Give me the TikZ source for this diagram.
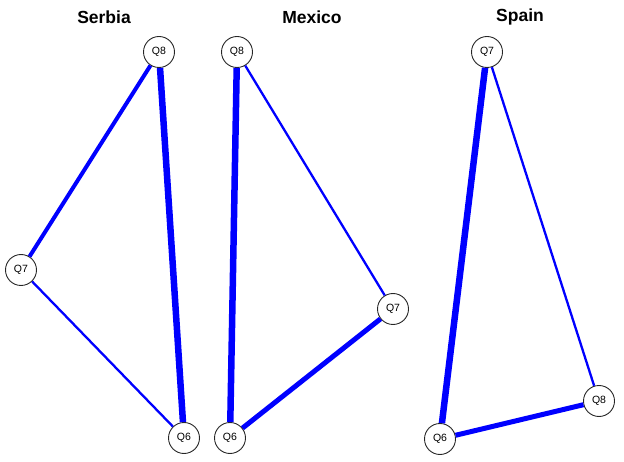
\documentclass[tikz,border=0pt]{standalone}
\usepackage{fontspec}
\setmainfont{Liberation Sans}
\begin{document}
\begin{tikzpicture}[x=1pt,y=-1pt,
  qnode/.style={circle,draw=black!85,line width=0.9pt,fill=white,minimum size=31pt,inner sep=0pt,font=\fontsize{10.5}{12}\selectfont},
  title/.style={font=\bfseries\fontsize{17.5}{20}\selectfont},
  thinedge/.style={draw={rgb,255:red,0;green,0;blue,255},line width=2.3pt},
  midedge/.style={draw={rgb,255:red,0;green,0;blue,255},line width=4pt},
  medthick/.style={draw={rgb,255:red,0;green,0;blue,255},line width=5pt},
  thickedge/.style={draw={rgb,255:red,0;green,0;blue,255},line width=6.5pt}]
\useasboundingbox (0,0) rectangle (624,462);
% titles
\node[title] (tS) at (104,17) {Serbia};
\node[title] (tM) at (312,17) {Mexico};
\node[title] (tE) at (520,17) {Spain};
% Serbia
\node[qnode] (s8) at (159,52) {Q8};
\node[qnode] (s7) at (21,270) {Q7};
\node[qnode] (s6) at (184,438) {Q6};
% Mexico
\node[qnode] (m8) at (237,52) {Q8};
\node[qnode] (m7) at (393,309) {Q7};
\node[qnode] (m6) at (230,438) {Q6};
% Spain
\node[qnode] (e7) at (487,52) {Q7};
\node[qnode] (e8) at (599,401) {Q8};
\node[qnode] (e6) at (440,439) {Q6};
% edges
\draw[thickedge] (s8) -- (s6);
\draw[midedge] (s8) -- (s7);
\draw[thinedge] (s7) -- (s6);
\draw[thickedge] (m8) -- (m6);
\draw[thinedge] (m8) -- (m7);
\draw[medthick] (m7) -- (m6);
\draw[thickedge] (e7) -- (e6);
\draw[thinedge] (e7) -- (e8);
\draw[medthick] (e6) -- (e8);
\end{tikzpicture}
\end{document}
